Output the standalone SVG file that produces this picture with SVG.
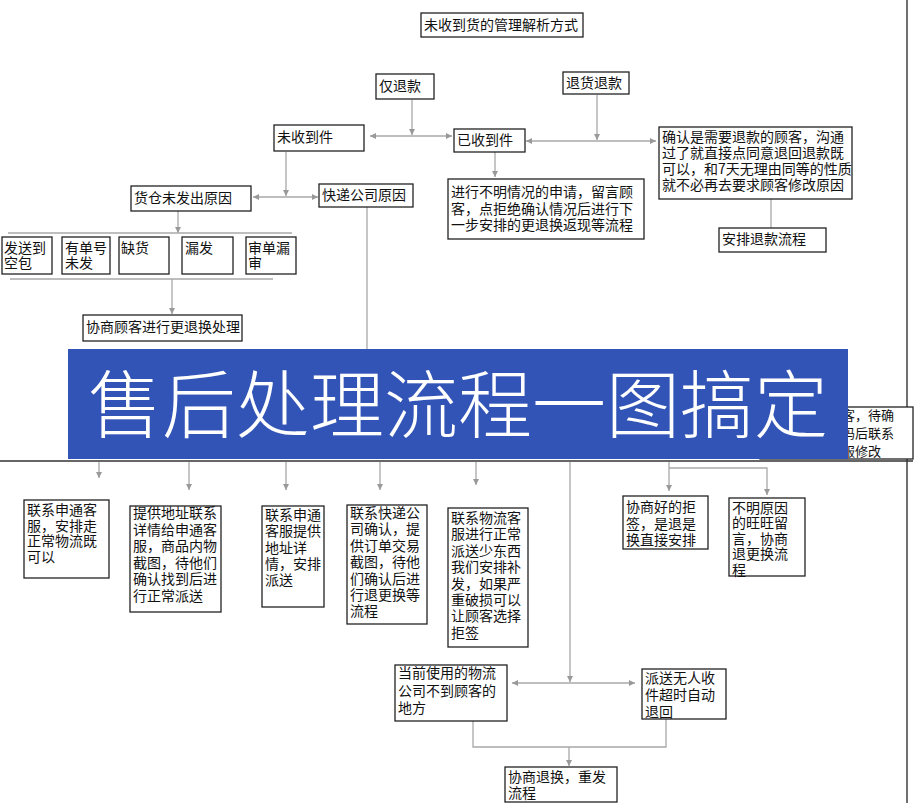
<svg xmlns="http://www.w3.org/2000/svg" width="916" height="803" viewBox="0 0 916 803">
<style>
.box{fill:#fff;stroke:#222;stroke-width:1.3}
.t{font-family:"Noto Sans CJK SC","Noto Sans",sans-serif;font-size:14px;fill:#111}
.c{stroke:#a8a8a8;stroke-width:1.3;fill:none}
.frame{stroke:#333;stroke-width:1.4;fill:none}
</style>
<defs>
<marker id="ar" markerWidth="6" markerHeight="6" refX="6" refY="3" orient="auto-start-reverse" markerUnits="userSpaceOnUse">
<path d="M0,0 L6,3 L0,6 z" fill="#999"/>
</marker>
</defs>
<rect width="916" height="803" fill="#fff"/>
<g id="frame">
<path class="frame" d="M907,0 V803"/>
<path class="frame" d="M0,461 H913"/>
</g>
<g id="connectors">
<path class="c" d="M412,100 V135" marker-end="url(#ar)"/>
<path class="c" d="M370,136 H452" marker-start="url(#ar)" marker-end="url(#ar)"/>
<path class="c" d="M597,95 V140" marker-end="url(#ar)"/>
<path class="c" d="M526,141 H656" marker-start="url(#ar)" marker-end="url(#ar)"/>
<path class="c" d="M771,199 V228"/>
<path class="c" d="M495,152 V177" marker-end="url(#ar)"/>
<path class="c" d="M286,152 V196" marker-end="url(#ar)"/>
<path class="c" d="M253,197 H318" marker-start="url(#ar)" marker-end="url(#ar)"/>
<path class="c" d="M178,211 V233" marker-end="url(#ar)"/>
<path class="c" d="M8,233 H292"/>
<path class="c" d="M10,279 H273"/>
<path class="c" d="M172,279 V314" marker-end="url(#ar)"/>
<path class="c" d="M367,207 V349"/>
<path class="c" d="M99,462 V478" marker-end="url(#ar)"/>
<path class="c" d="M189,462 V490" marker-end="url(#ar)"/>
<path class="c" d="M286,462 V490" marker-end="url(#ar)"/>
<path class="c" d="M380,462 V490" marker-end="url(#ar)"/>
<path class="c" d="M476,462 V485" marker-end="url(#ar)"/>
<path class="c" d="M570,462 V682" marker-end="url(#ar)"/>
<path class="c" d="M512,683 H635" marker-start="url(#ar)" marker-end="url(#ar)"/>
<path class="c" d="M669,462 V491" marker-end="url(#ar)"/>
<path class="c" d="M669,468 H767 V495" marker-end="url(#ar)"/>
<path class="c" d="M473,721 V747 H666 V719"/>
<path class="c" d="M569,747 V766" marker-end="url(#ar)"/>
</g>
<g id="n-title"><rect class="box" x="421" y="13" width="162" height="24"/><text class="t" x="424" y="30">未收到货的管理解析方式</text></g>
<g id="n-jintuikuan"><rect class="box" x="376" y="74" width="58" height="25"/><text class="t" x="379" y="91">仅退款</text></g>
<g id="n-tuihuotuikuan"><rect class="box" x="563" y="72" width="66" height="22"/><text class="t" x="566" y="88">退货退款</text></g>
<g id="n-weishoudaojian"><rect class="box" x="274" y="125" width="90" height="26"/><text class="t" x="277" y="142">未收到件</text></g>
<g id="n-yishoudaojian"><rect class="box" x="454" y="129" width="71" height="23"/><text class="t" x="457" y="145">已收到件</text></g>
<g id="n-queren"><rect class="box" x="659" y="127" width="193" height="72"/><text class="t"><tspan x="662" y="142">确认是需要退款的顾客，沟通</tspan><tspan x="662" dy="16">过了就直接点同意退回退款既</tspan><tspan x="662" dy="16">可以，和7天无理由同等的性质</tspan><tspan x="662" dy="16">就不必再去要求顾客修改原因</tspan></text></g>
<g id="n-anpaituikuan"><rect class="box" x="719" y="228" width="107" height="24"/><text class="t" x="722" y="244">安排退款流程</text></g>
<g id="n-buming"><rect class="box" x="448" y="179" width="196" height="60"/><text class="t"><tspan x="451" y="197">进行不明情况的申请，留言顾</tspan><tspan x="451" dy="16.5">客，点拒绝确认情况后进行下</tspan><tspan x="451" dy="16.5">一步安排的更退换返现等流程</tspan></text></g>
<g id="n-huocang"><rect class="box" x="131" y="186" width="120" height="25"/><text class="t" x="134" y="203">货仓未发出原因</text></g>
<g id="n-kuaidi"><rect class="box" x="319" y="184" width="94" height="23"/><text class="t" x="322" y="200">快递公司原因</text></g>
<g id="n-kongbao"><rect class="box" x="2" y="237" width="50" height="37"/><text class="t"><tspan x="4" y="253">发送到</tspan><tspan x="4" dy="15">空包</tspan></text></g>
<g id="n-weifa"><rect class="box" x="62" y="237" width="48" height="37"/><text class="t"><tspan x="65" y="253">有单号</tspan><tspan x="65" dy="15">未发</tspan></text></g>
<g id="n-quehuo"><rect class="box" x="119" y="237" width="50" height="37"/><text class="t" x="121" y="253">缺货</text></g>
<g id="n-loufa"><rect class="box" x="182" y="237" width="51" height="37"/><text class="t" x="185" y="253">漏发</text></g>
<g id="n-loushen"><rect class="box" x="246" y="237" width="50" height="37"/><text class="t"><tspan x="248" y="253">审单漏</tspan><tspan x="248" dy="15">审</tspan></text></g>
<g id="n-xieshang1"><rect class="box" x="83" y="315" width="159" height="26"/><text class="t" x="86" y="332">协商顾客进行更退换处理</text></g>
<g id="n-hidden"><rect class="box" x="760" y="407" width="153" height="52"/><text class="t" style="font-size:13px"><tspan x="842" y="420">客，待确</tspan><tspan x="842" dy="18">码后联系</tspan><tspan x="842" dy="18">服修改</tspan></text></g>
<g id="banner"><rect x="68" y="349" width="780" height="110" fill="#3254b6"/><text x="458" y="432" text-anchor="middle" style="font-family:'Noto Sans CJK SC','Noto Sans',sans-serif;font-size:74px;font-weight:300;fill:#fff">售后处理流程一图搞定</text></g>
<g id="n-b1"><rect class="box" x="24" y="500" width="85" height="78"/><text class="t"><tspan x="27" y="515">联系申通客</tspan><tspan x="27" dy="15.6">服，安排走</tspan><tspan x="27" dy="15.6">正常物流既</tspan><tspan x="27" dy="15.6">可以</tspan></text></g>
<g id="n-b2"><rect class="box" x="130" y="506" width="91" height="106"/><text class="t"><tspan x="133" y="518">提供地址联系</tspan><tspan x="133" dy="16.5">详情给申通客</tspan><tspan x="133" dy="16.5">服，商品内物</tspan><tspan x="133" dy="16.5">截图，待他们</tspan><tspan x="133" dy="16.5">确认找到后进</tspan><tspan x="133" dy="16.5">行正常派送</tspan></text></g>
<g id="n-b3"><rect class="box" x="262" y="506" width="62" height="101"/><text class="t"><tspan x="265" y="520">联系申通</tspan><tspan x="265" dy="16.3">客服提供</tspan><tspan x="265" dy="16.3">地址详</tspan><tspan x="265" dy="16.3">情，安排</tspan><tspan x="265" dy="16.3">派送</tspan></text></g>
<g id="n-b4"><rect class="box" x="347" y="505" width="80" height="119"/><text class="t"><tspan x="350" y="518">联系快递公</tspan><tspan x="350" dy="16.4">司确认，提</tspan><tspan x="350" dy="16.4">供订单交易</tspan><tspan x="350" dy="16.4">截图，待他</tspan><tspan x="350" dy="16.4">们确认后进</tspan><tspan x="350" dy="16.4">行退更换等</tspan><tspan x="350" dy="16.4">流程</tspan></text></g>
<g id="n-b5"><rect class="box" x="448" y="508" width="80" height="139"/><text class="t"><tspan x="451" y="523">联系物流客</tspan><tspan x="451" dy="16.4">服进行正常</tspan><tspan x="451" dy="16.4">派送少东西</tspan><tspan x="451" dy="16.4">我们安排补</tspan><tspan x="451" dy="16.4">发，如果严</tspan><tspan x="451" dy="16.4">重破损可以</tspan><tspan x="451" dy="16.4">让顾客选择</tspan><tspan x="451" dy="16.4">拒签</tspan></text></g>
<g id="n-b6"><rect class="box" x="623" y="496" width="85" height="53"/><text class="t"><tspan x="626" y="512">协商好的拒</tspan><tspan x="626" dy="16.7">签，是退是</tspan><tspan x="626" dy="16.7">换直接安排</tspan></text></g>
<g id="n-b7"><rect class="box" x="729" y="498" width="76" height="78"/><text class="t"><tspan x="732" y="513">不明原因</tspan><tspan x="732" dy="15.4">的旺旺留</tspan><tspan x="732" dy="15.4">言，协商</tspan><tspan x="732" dy="15.4">退更换流</tspan><tspan x="732" dy="15.4">程</tspan></text></g>
<g id="n-c1"><rect class="box" x="395" y="665" width="112" height="56"/><text class="t"><tspan x="398" y="678">当前使用的物流</tspan><tspan x="398" dy="17.5">公司不到顾客的</tspan><tspan x="398" dy="17.5">地方</tspan></text></g>
<g id="n-c2"><rect class="box" x="642" y="669" width="84" height="50"/><text class="t"><tspan x="645" y="683">派送无人收</tspan><tspan x="645" dy="17">件超时自动</tspan><tspan x="645" dy="17">退回</tspan></text></g>
<g id="n-c3"><rect class="box" x="505" y="767" width="112" height="35"/><text class="t"><tspan x="508" y="782">协商退换，重发</tspan><tspan x="508" dy="16">流程</tspan></text></g>
</svg>
